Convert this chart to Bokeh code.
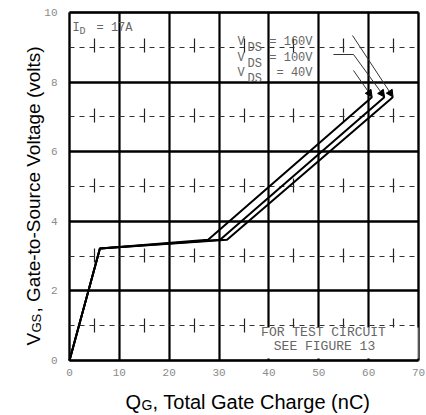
import math
from bokeh.plotting import figure
from bokeh.models import Range1d, FixedTicker, Label, Arrow, NormalHead, BoxAnnotation
from bokeh.embed import file_html
from bokeh.resources import INLINE

# ---- data ----
qg_40 = [0, 6.1, 27.8, 60.7]
vgs_40 = [0, 3.22, 3.47, 7.57]
qg_100 = [0, 6.1, 30.2, 63.2]
vgs_100 = [0, 3.22, 3.47, 7.57]
qg_160 = [0, 6.1, 31.6, 64.9]
vgs_160 = [0, 3.22, 3.47, 7.57]

x_ticks = [0, 10, 20, 30, 40, 50, 60, 70]
x_minor = [5, 15, 25, 35, 45, 55, 65]
y_ticks = [0, 2, 4, 6, 8, 10]
y_minor = [1, 3, 5, 7, 9]

W, H = 426, 415
LEFT, RIGHT, TOP, BOTTOM = 69, 8, 12, 55
SX = (W - LEFT - RIGHT) / 70.0
SY = (H - TOP - BOTTOM) / 10.0


def X(px):  # absolute pixel -> data x
    return (px - LEFT) / SX


def Y(py):  # absolute pixel -> data y
    return (H - BOTTOM - py) / SY


p = figure(width=W, height=H, output_backend="svg", toolbar_location=None,
           x_range=Range1d(X(0), X(W)), y_range=Range1d(Y(H), Y(0)),
           min_border=0)
p.background_fill_color = "white"
p.border_fill_color = "white"
p.outline_line_color = None

p.xaxis.ticker = FixedTicker(ticks=x_ticks, minor_ticks=x_minor)
p.yaxis.ticker = FixedTicker(ticks=y_ticks, minor_ticks=y_minor)
p.xaxis.fixed_location = 0
p.yaxis.fixed_location = 0
p.xaxis.bounds = (0, 70)
p.yaxis.bounds = (0, 10)
for ax in (p.xaxis[0], p.yaxis[0]):
    ax.axis_line_color = None
    ax.major_tick_line_color = None
    ax.minor_tick_line_color = None
    ax.major_label_text_font = "Liberation Mono"
    ax.major_label_text_font_size = "11px"
    ax.major_label_text_color = "#8a8a8a"
    ax.axis_label = None
p.xaxis.major_label_standoff = 2
p.yaxis.major_label_standoff = 6

p.xgrid.bounds = (0, 70)
p.xgrid.cross_bounds = (0, 10)
p.ygrid.bounds = (0, 10)
p.ygrid.cross_bounds = (0, 70)
p.xgrid.grid_line_color = "black"
p.xgrid.grid_line_width = 2.2
p.ygrid.grid_line_color = "black"
p.ygrid.grid_line_width = 2.6
p.xgrid.minor_grid_line_color = "#222222"
p.xgrid.minor_grid_line_width = 1.2
p.xgrid.minor_grid_line_dash = "14 56"
p.xgrid.minor_grid_line_dash_offset = 42
p.ygrid.minor_grid_line_color = "#333333"
p.ygrid.minor_grid_line_width = 1
p.ygrid.minor_grid_line_dash = "5 5"

# white note box
p.add_layout(BoxAnnotation(left=X(250), right=70, bottom=0.06, top=0.95,
                           fill_color="white", fill_alpha=1.0,
                           line_color=None))
# chart frame border
p.add_layout(BoxAnnotation(left=0, right=70, bottom=0, top=10,
                           fill_alpha=0, line_color="black", line_width=2.6))

# curves
for q, v in ((qg_160, vgs_160), (qg_100, vgs_100), (qg_40, vgs_40)):
    p.line(q, v, line_color="black", line_width=2)

mono = "Liberation Mono"
tcol = "#666666"


def lab(x, y, text, size="12px", font=mono, color=tcol, align="left",
        baseline="middle", angle=0.0):
    p.add_layout(Label(x=x, y=y, text=text, text_font=font,
                       text_font_size=size, text_color=color,
                       text_align=align, text_baseline=baseline,
                       angle=angle))


# I_D = 17A
lab(X(72), Y(27), "I")
lab(X(79), Y(31), "D", size="10px")
lab(X(96), Y(27), "= 17A")

# V_DS labels
rows = [(41, "= 160V"), (57, "= 100V"), (72, "= 40V")]
for py, txt in rows:
    lab(X(237), Y(py), "V")
    lab(X(247), Y(py + 6), "DS")
    lab(X(312), Y(py), txt, align="right")

# leader lines with arrowheads to curve ends
head = dict(size=7, fill_color="black", line_color="black")
p.add_layout(Arrow(end=NormalHead(**head), x_start=X(352), y_start=Y(35),
                   x_end=qg_160[-1], y_end=vgs_160[-1],
                   line_color="#333333", line_width=1))
p.add_layout(Arrow(end=None, x_start=X(333), y_start=Y(54), x_end=X(353),
                   y_end=Y(54), line_color="#333333", line_width=1))
p.add_layout(Arrow(end=NormalHead(**head), x_start=X(353), y_start=Y(54),
                   x_end=qg_100[-1], y_end=vgs_100[-1],
                   line_color="#333333", line_width=1))
p.add_layout(Arrow(end=NormalHead(**head), x_start=X(353), y_start=Y(70),
                   x_end=qg_40[-1], y_end=vgs_40[-1],
                   line_color="#333333", line_width=1))

# note
lab(X(323), Y(332), "FOR TEST CIRCUIT", size="13px", align="center")
lab(X(324), Y(346), "SEE FIGURE 13", size="13px", align="center")

# axis titles (with subscripts)
sans = "Liberation Sans"
lab(X(125), Y(401), "Q", size="20px", font=sans, color="black",
    baseline="alphabetic")
lab(X(141), Y(404), "G", size="14px", font=sans, color="black",
    baseline="alphabetic")
lab(X(152), Y(401), ", Total Gate Charge (nC)", size="20px", font=sans,
    color="black", baseline="alphabetic")

ang = math.pi / 2
lab(X(33), Y(345), "V", size="19px", font=sans, color="black",
    baseline="alphabetic", angle=ang)
lab(X(36), Y(332), "GS", size="13px", font=sans, color="black",
    baseline="alphabetic", angle=ang)
lab(X(33), Y(312), ", Gate-to-Source Voltage (volts)", size="19px",
    font=sans, color="black", baseline="alphabetic", angle=ang)

open("out.html", "w").write(file_html(p, INLINE))
